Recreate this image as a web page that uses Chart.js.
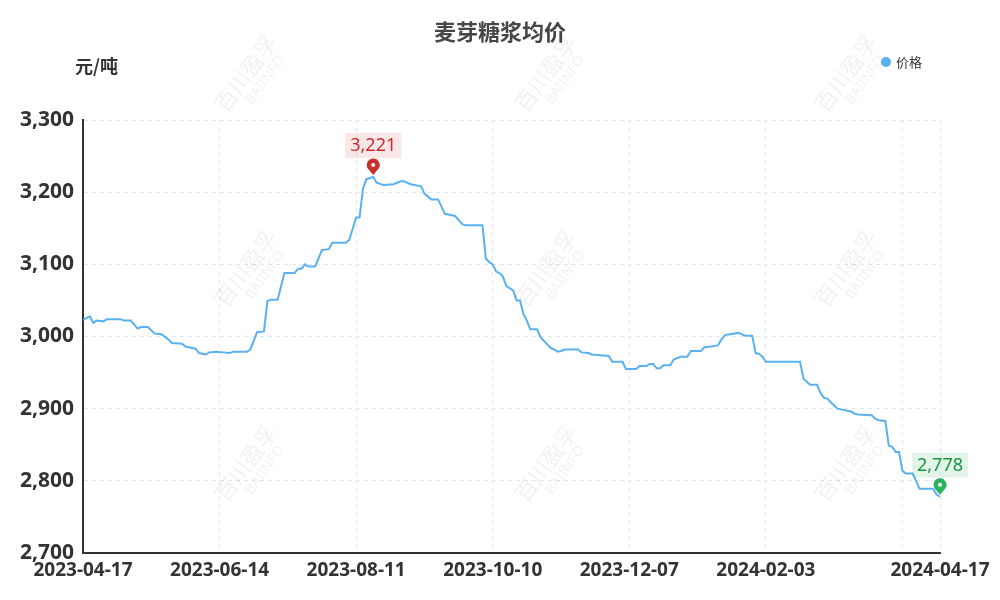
<!DOCTYPE html>
<html>
<head>
<meta charset="utf-8">
<script src="https://cdn.jsdelivr.net/npm/chart.js@4.4.1/dist/chart.umd.min.js"></script>
<style>
  html, body { margin: 0; padding: 0; background: #fff; }
  #wrap { width: 1000px; height: 600px; }
</style>
</head>
<body>
<div id="wrap"><canvas id="chart" width="1000" height="600"></canvas></div>
<script>
// day index (trading days since 2023-04-17) and price in 元/吨
var dayIdx = [0, 2, 3, 4, 6, 7, 11, 12, 14, 16, 17, 19, 21, 23, 25, 26, 29, 30, 33, 34,
  36, 37, 39, 41, 43, 44, 48, 49, 51, 53, 54, 55, 57, 59, 62, 63, 64, 65, 66, 68,
  70, 72, 73, 77, 78, 80, 81, 82, 83, 85, 86, 88, 91, 93, 94, 96, 99, 100, 102, 104,
  105, 106, 108, 109, 111, 112, 117, 118, 119, 120, 121, 122, 123, 124, 126, 127, 128, 129, 130, 131,
  133, 134, 135, 137, 138, 139, 140, 141, 145, 146, 148, 149, 154, 155, 158, 159, 162, 163, 165, 166,
  167, 168, 169, 170, 172, 173, 175, 177, 178, 181, 182, 184, 185, 186, 187, 188, 192, 193, 194, 196,
  197, 198, 199, 200, 210, 211, 212, 213, 215, 216, 217, 218, 219, 221, 223, 225, 226, 227, 231, 232,
  233, 235, 236, 237, 238, 239, 240, 241, 243, 244, 245, 249, 250, 251];
var price = [3023, 3028, 3019, 3022, 3021, 3024, 3024, 3022, 3022, 3011, 3013, 3013, 3004, 3003, 2996, 2991, 2990, 2986, 2983, 2977,
  2975, 2978, 2979, 2978, 2977, 2979, 2979, 2982, 3006, 3007, 3049, 3051, 3051, 3088, 3088, 3094, 3094, 3100, 3097, 3097,
  3120, 3121, 3130, 3130, 3134, 3165, 3165, 3205, 3218, 3221, 3213, 3210, 3211, 3215, 3215, 3211, 3208, 3198, 3190, 3190,
  3180, 3170, 3168, 3167, 3156, 3154, 3154, 3108, 3103, 3100, 3090, 3088, 3083, 3070, 3064, 3050, 3050, 3031, 3022, 3010,
  3010, 2999, 2994, 2984, 2982, 2979, 2980, 2982, 2982, 2978, 2977, 2975, 2973, 2965, 2965, 2955, 2955, 2959, 2959, 2962,
  2962, 2956, 2956, 2960, 2960, 2968, 2972, 2972, 2980, 2980, 2985, 2986, 2987, 2988, 2996, 3002, 3005, 3003, 3001, 3001,
  2977, 2976, 2972, 2965, 2965, 2942, 2937, 2933, 2933, 2922, 2915, 2914, 2909, 2900, 2898, 2896, 2893, 2892, 2891, 2886,
  2884, 2883, 2849, 2847, 2840, 2840, 2814, 2810, 2810, 2800, 2789, 2789, 2781, 2778];

var tickIdx = [0, 40, 80, 120, 160, 200, 240, 251];
var tickLabels = ['2023-04-17', '2023-06-14', '2023-08-11', '2023-10-10', '2023-12-07', '2024-02-03', '', '2024-04-17'];

var chartTitle = '麦芽糖浆均价';
var unitText = '元/吨';
var seriesName = '价格';
var lineColor = '#5ab1ef';

var FONT = '"Noto Sans", "Noto Sans CJK SC", sans-serif';
var CJK = '"Noto Sans CJK SC", "Noto Sans", sans-serif';

function fmt(v) { return v.toLocaleString('en-US'); }

// title, unit, legend, watermark and max/min pins
var decor = {
  id: 'decor',
  afterDatasetsDraw: function (chart) {
    var ctx = chart.ctx;
    var xs = chart.scales.x, ys = chart.scales.y;
    var hi = 0, lo = 0;
    for (var i = 1; i < price.length; i++) {
      if (price[i] > price[hi]) hi = i;
      if (price[i] < price[lo]) lo = i;
    }
    drawPin(ctx, xs.getPixelForValue(dayIdx[hi]), ys.getPixelForValue(price[hi]),
      fmt(price[hi]), '#c9302c', '#cf2b2b', 'rgba(214,60,60,0.12)');
    drawPin(ctx, xs.getPixelForValue(dayIdx[lo]), ys.getPixelForValue(price[lo]),
      fmt(price[lo]), '#27b35c', '#17973f', 'rgba(40,170,80,0.13)');
  },
  afterDraw: function (chart) {
    var ctx = chart.ctx;
    ctx.save();
    ctx.fillStyle = '#464646';
    ctx.font = 'bold 22px ' + CJK;
    ctx.textAlign = 'center';
    ctx.textBaseline = 'middle';
    ctx.fillText(chartTitle, 500, 32);

    ctx.fillStyle = '#333';
    ctx.font = 'bold 18px ' + CJK;
    ctx.textAlign = 'left';
    ctx.fillText(unitText, 75, 66);

    ctx.fillStyle = lineColor;
    ctx.beginPath();
    ctx.arc(886, 62, 5, 0, Math.PI * 2);
    ctx.fill();
    ctx.fillStyle = '#333';
    ctx.font = '13px ' + CJK;
    ctx.fillText(seriesName, 896, 62);

    // watermark
    ctx.fillStyle = 'rgba(0,0,0,0.06)';
    ctx.textAlign = 'center';
    [252, 552, 852].forEach(function (cx) {
      [78, 273, 468, 663].forEach(function (cy) {
        ctx.save();
        ctx.translate(cx, cy);
        ctx.rotate(-Math.PI * 0.3);
        ctx.font = '22px ' + CJK;
        ctx.fillText('百川盈孚', 0, -8);
        ctx.font = '14px ' + FONT;
        ctx.fillText('BAIINFO', 6, 12);
        ctx.restore();
      });
    });
    ctx.restore();
  }
};

function drawPin(ctx, x, y, text, pinColor, textColor, bg) {
  ctx.save();
  var cy = y - 12;
  ctx.fillStyle = pinColor;
  ctx.beginPath();
  ctx.arc(x, cy, 6.5, Math.PI * 0.8, Math.PI * 0.2);
  ctx.lineTo(x, y - 2);
  ctx.closePath();
  ctx.fill();
  ctx.fillStyle = '#fff';
  ctx.beginPath();
  ctx.arc(x, cy, 2, 0, Math.PI * 2);
  ctx.fill();

  ctx.font = '18px ' + FONT;
  var w = ctx.measureText(text).width + 10;
  ctx.fillStyle = bg;
  ctx.fillRect(x - w / 2, y - 44, w, 25);
  ctx.fillStyle = textColor;
  ctx.textAlign = 'center';
  ctx.textBaseline = 'middle';
  ctx.fillText(text, x, y - 31);
  ctx.restore();
}

var points = dayIdx.map(function (d, i) { return { x: d, y: price[i] }; });

new Chart(document.getElementById('chart'), {
  type: 'line',
  data: {
    datasets: [{
      label: seriesName,
      data: points,
      borderColor: lineColor,
      backgroundColor: lineColor,
      borderWidth: 2,
      pointRadius: 0,
      tension: 0
    }]
  },
  options: {
    responsive: false,
    animation: false,
    layout: { padding: { top: 120, right: 60, bottom: 0, left: 0 } },
    plugins: {
      legend: { display: false },
      title: { display: false },
      tooltip: { enabled: false }
    },
    scales: {
      x: {
        type: 'linear',
        min: 0,
        max: 251,
        afterBuildTicks: function (s) {
          s.ticks = tickIdx.map(function (v) { return { value: v }; });
        },
        afterFit: function (s) { s.height = 47; },
        grid: { color: '#e0e6f1', drawTicks: false },
        border: { display: true, color: '#333', width: 2, dash: [4, 4] },
        ticks: {
          autoSkip: false,
          maxRotation: 0,
          padding: 6,
          color: '#333',
          font: { family: FONT, size: 19, weight: 'bold' },
          callback: function (v) {
            var k = tickIdx.indexOf(v);
            return k < 0 ? '' : tickLabels[k];
          }
        }
      },
      y: {
        min: 2700,
        max: 3300,
        afterFit: function (s) { s.width = 83; },
        grid: { color: '#e0e6f1', drawTicks: false },
        border: { display: true, color: '#333', width: 2, dash: [4, 4] },
        ticks: {
          stepSize: 100,
          padding: 9,
          color: '#333',
          font: { family: FONT, size: 21, weight: 'bold' },
          callback: function (v) { return fmt(v); }
        }
      }
    }
  },
  plugins: [decor]
});
</script>
</body>
</html>
